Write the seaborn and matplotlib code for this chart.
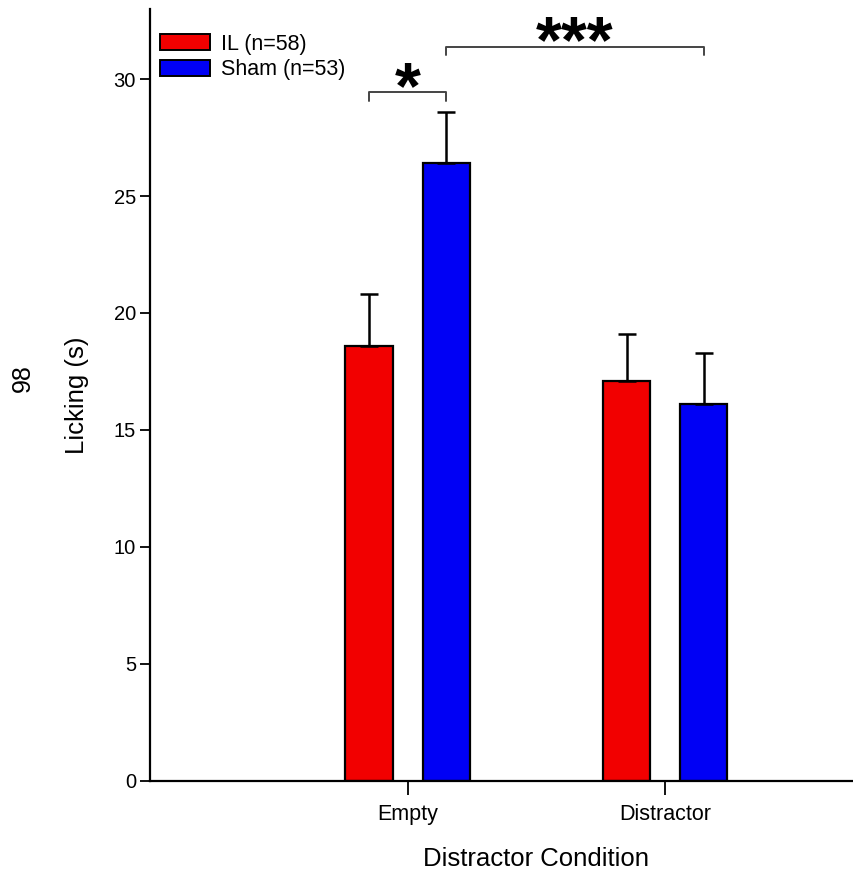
import numpy as np
import pandas as pd
import matplotlib
matplotlib.use("Agg")
import matplotlib.pyplot as plt
from matplotlib.patches import Patch
import seaborn as sns

# Mean licking time (s) and SEM per distractor condition
conditions = ["Empty", "Distractor"]
groups = ["IL (n=58)", "Sham (n=53)"]
il_mean = [18.6, 17.1]
sham_mean = [26.4, 16.1]
il_sem = [2.2, 2.0]
sham_sem = [2.2, 2.2]
colors = ["#F20000", "#0000F5"]

df = pd.DataFrame({
    "Condition": conditions * 2,
    "Group": [groups[0]] * 2 + [groups[1]] * 2,
    "Licking": il_mean + sham_mean,
    "SEM": il_sem + sham_sem,
})

sns.set_style("ticks", {"axes.edgecolor": "black", "text.color": "black",
                        "axes.labelcolor": "black", "xtick.color": "black",
                        "ytick.color": "black"})
plt.rcParams["font.family"] = ["Liberation Sans", "DejaVu Sans"]

fig = plt.figure(figsize=(8.54, 8.72), dpi=100)
ax = fig.add_axes([0.1762, 0.1049, 0.8226, 0.8848])

sns.barplot(data=df, x="Condition", y="Licking", hue="Group",
            order=conditions, hue_order=groups, palette=colors,
            width=0.6, gap=0.385, errorbar=None, edgecolor="black",
            linewidth=1.6, saturation=1, legend=False, ax=ax)

# Upper-only SEM error bars, positioned on each bar's centre
centers = {}
for grp, cont in zip(groups, ax.containers):
    sub = df[df["Group"] == grp].set_index("Condition").loc[conditions]
    xs = [p.get_x() + p.get_width() / 2 for p in cont.patches]
    ys = sub["Licking"].to_numpy()
    err = sub["SEM"].to_numpy()
    for c, x in zip(conditions, xs):
        centers[(grp, c)] = x
    ax.errorbar(xs, ys, yerr=[np.zeros_like(err), err], fmt="none",
                ecolor="black", elinewidth=1.8, capsize=6.2, capthick=1.8,
                zorder=1)

ax.set_xlim(-1, 1.73)
ax.set_ylim(0, 33)
ax.set_yticks([0, 5, 10, 15, 20, 25, 30])
ax.tick_params(axis="y", labelsize=14.5, length=7, width=1.3, direction="out")
ax.tick_params(axis="x", labelsize=15.5, length=10, width=1.3, direction="out", pad=7)
for side in ["top", "right"]:
    ax.spines[side].set_visible(False)
for side in ["left", "bottom"]:
    ax.spines[side].set_linewidth(1.6)

ax.set_xlabel("Distractor Condition", fontsize=18.5, labelpad=16)
ax.xaxis.label.set_x(0.549)
ax.set_ylabel("Licking (s)", fontsize=18.5, labelpad=18)
fig.text(0.027, 0.567, "98", rotation=90, fontsize=18, ha="center", va="center")

# Significance brackets
line_kw = dict(color="#444444", lw=1.4, clip_on=False)
x1, x2 = centers[(groups[0], "Empty")], centers[(groups[1], "Empty")]
ax.plot([x1, x1, x2, x2], [29.07, 29.43, 29.43, 29.07], **line_kw)
ax.text((x1 + x2) / 2, 28.75, "*", ha="center", va="baseline",
        fontsize=48, fontweight="bold")

x3, x4 = centers[(groups[1], "Empty")], centers[(groups[1], "Distractor")]
ax.plot([x3, x3, x4, x4], [31.03, 31.38, 31.38, 31.03], **line_kw)
ax.text((x3 + x4) / 2, 30.73, "***", ha="center", va="baseline",
        fontsize=48, fontweight="bold", clip_on=False)

handles = [Patch(facecolor=c, edgecolor="black", linewidth=1.4) for c in colors]
ax.legend(handles, groups, loc="upper left", bbox_to_anchor=(0.014, 0.968),
          frameon=False, fontsize=15.5, handlelength=2.3, handleheight=0.72,
          handletextpad=0.5, labelspacing=0.22, borderpad=0, borderaxespad=0)

fig.savefig("out.png", dpi=100)
